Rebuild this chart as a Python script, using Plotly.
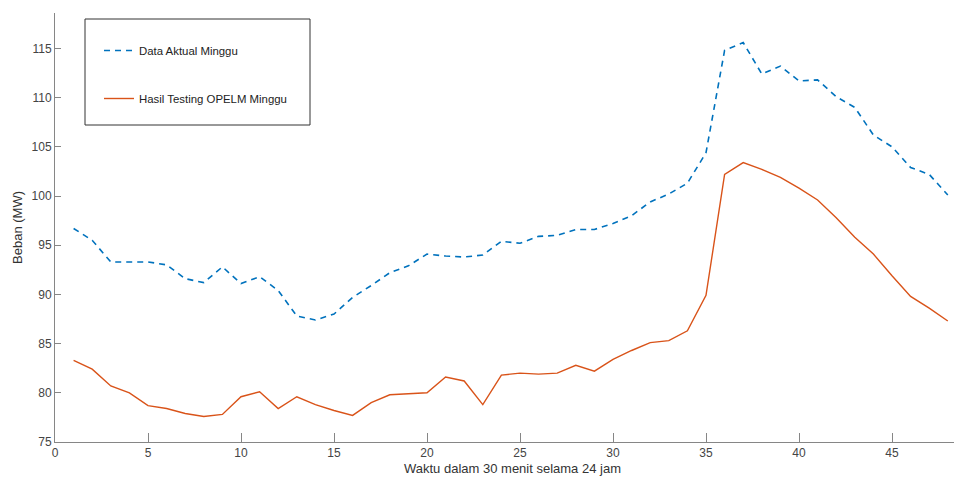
import plotly.graph_objects as go

x_index = list(range(1, 49))

data_aktual = [96.7, 95.5, 93.3, 93.3, 93.3, 93.0, 91.6, 91.2, 92.8, 91.1,
               91.8, 90.4, 87.8, 87.4, 88.0, 89.7, 90.9, 92.2, 92.9, 94.1,
               93.9, 93.8, 94.0, 95.4, 95.2, 95.9, 96.0, 96.6, 96.6, 97.2,
               98.0, 99.4, 100.2, 101.3, 104.4, 114.8, 115.6, 112.4, 113.2, 111.7,
               111.8, 110.1, 109.0, 106.2, 105.0, 102.9, 102.2, 100.1]

hasil_opelm = [83.3, 82.4, 80.7, 80.0, 78.7, 78.4, 77.9, 77.6, 77.8, 79.6,
               80.1, 78.4, 79.6, 78.8, 78.2, 77.7, 79.0, 79.8, 79.9, 80.0,
               81.6, 81.2, 78.8, 81.8, 82.0, 81.9, 82.0, 82.8, 82.2, 83.4,
               84.3, 85.1, 85.3, 86.3, 89.9, 102.2, 103.4, 102.7, 101.9, 100.8,
               99.6, 97.8, 95.8, 94.1, 91.9, 89.8, 88.6, 87.3]

x_ticks = [0, 5, 10, 15, 20, 25, 30, 35, 40, 45]
y_ticks = [75, 80, 85, 90, 95, 100, 105, 110, 115]

names = ["Data Aktual Minggu", "Hasil Testing OPELM Minggu"]
x_title = "Waktu dalam 30 menit selama 24 jam"
y_title = "Beban (MW)"

BLUE = "#0072BD"
ORANGE = "#D95319"
AXIS = "#868686"
TXT = "#444444"
FONT = "Liberation Sans, Arial, sans-serif"

# page body has an 8px offset
OFF = 8
W, H = 962, 485
L, T = 55 - OFF, 13 - OFF
B = H - (442 - OFF)
R = 0
pw, ph = W - L - R, H - T - B
x_max = pw / 18.6

def px(xp):
    return (xp - OFF - L) / pw

def py(yp):
    return (H - B - (yp - OFF)) / ph

fig = go.Figure()
fig.add_trace(go.Scatter(x=x_index, y=data_aktual, mode="lines", name=names[0],
                         legendgroup="a",
                         line=dict(color=BLUE, width=1.6, dash="6px,5px")))
fig.add_trace(go.Scatter(x=x_index, y=hasil_opelm, mode="lines", name=names[1],
                         legendgroup="b",
                         line=dict(color=ORANGE, width=1.4)))

fig.add_shape(type="rect", xref="paper", yref="paper",
              x0=px(85), x1=px(310), y0=py(125), y1=py(19),
              line=dict(color="#333333", width=1), fillcolor="rgba(0,0,0,0)")

fig.update_layout(
    width=W, height=H,
    margin=dict(l=L, r=R, t=T, b=B),
    paper_bgcolor="white", plot_bgcolor="white",
    font=dict(family=FONT, size=12, color=TXT),
    showlegend=True,
    legend=dict(x=px(99), y=py(36), xanchor="left", yanchor="top",
                bgcolor="rgba(0,0,0,0)", borderwidth=0,
                traceorder="grouped", tracegroupgap=29,
                font=dict(family=FONT, size=11.4, color="#222222"),
                itemwidth=30),
    xaxis=dict(range=[0, x_max], tickvals=x_ticks, ticks="inside", ticklen=9,
               tickcolor=AXIS, showline=True, linecolor=AXIS, linewidth=1,
               showgrid=False, zeroline=False,
               title=dict(text=x_title, font=dict(size=13, color="#333333"), standoff=4),
               tickfont=dict(size=12, color=TXT)),
    yaxis=dict(range=[75, 118.6], tickvals=y_ticks, ticks="inside", ticklen=6,
               tickcolor=AXIS, showline=True, linecolor=AXIS, linewidth=1,
               showgrid=False, zeroline=False,
               title=dict(text=y_title, font=dict(size=13, color="#333333"), standoff=6),
               tickfont=dict(size=12, color=TXT)),
)

fig.write_html("out.html")
